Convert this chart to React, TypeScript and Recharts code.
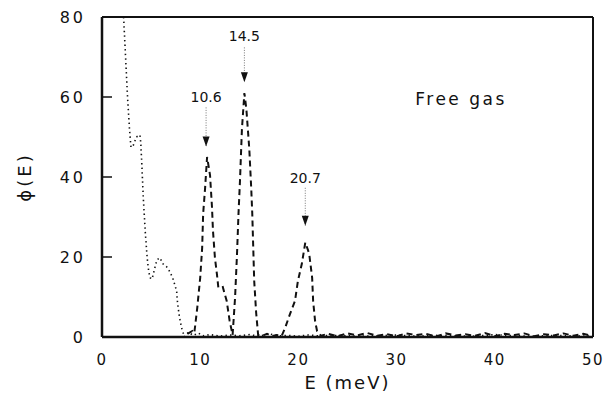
import { LineChart, Line, XAxis, YAxis, ReferenceLine, ReferenceDot } from "recharts";

// dotted curve (low energy tail)
const dottedE = [
  2.2, 2.4, 2.6, 2.8, 2.95, 3.2, 3.5, 3.87, 3.95, 4.04, 4.2, 4.4, 4.6, 4.75, 4.9, 5.1, 5.4, 5.6,
  5.9, 6.2, 6.7, 7.2, 7.6, 7.7, 7.9, 8.1, 8.4, 8.8, 9.3, 9.8, 10.3, 11, 12, 13, 14, 15, 16, 17,
  18, 19, 20, 21, 22, 24, 26, 28, 30, 32, 34, 36, 38, 40, 42, 44, 46, 48, 50,
];
const dottedPhi = [
  80, 70, 60, 52, 47.4, 48, 50, 50.5, 48.4, 44, 35, 26.5, 19.8, 16.5, 14.8, 14.5, 17.5, 19.3,
  19.8, 18.3, 17.3, 14.8, 11.5, 8.3, 4.8, 2.3, 0, 1.2, 0.4, 1.0, 0.3, 0.6, 0.2, 0.5, 0.3, 0.6,
  0.2, 0.8, 0.3, 0.4, 0.2, 0.5, 0.3, 0.4, 0.2, 0.3, 0.5, 0.2, 0.4, 0.3, 0.2, 0.6, 0.3, 0.2, 0.4,
  0.3, 0.2,
];

// dashed curve (free gas peaks)
const dashedE = [
  8.7, 9.2, 9.4, 9.7, 10.0, 10.2, 10.3, 10.5, 10.7, 11.0, 11.2, 11.3, 11.5, 11.7, 11.85, 12.3,
  12.7, 13.0, 13.3, 13.55, 13.75, 13.9, 14.05, 14.25, 14.5, 14.7, 15.0, 15.2, 15.3, 15.5, 15.7,
  15.9, 16.3, 16.8, 17.3, 17.8, 18.3, 18.65, 19.15, 19.65, 19.95, 20.35, 20.7, 20.8, 21.1, 21.4,
  21.5, 21.7, 21.9, 22.3, 23, 24, 25, 26, 27, 28, 29, 30, 31, 32, 33, 34, 35, 36, 37, 38, 39, 40,
  41, 42, 43, 44, 45, 46, 47, 48, 49, 50,
];
const dashedPhi = [
  0.8, 1.5, 1.0, 7.3, 14.8, 22.3, 30.8, 37.3, 45, 40.5, 32.5, 26.6, 19.8, 15.8, 12.3, 12.5, 9,
  4, 0.5, 9.8, 20.8, 30.8, 39, 52, 61, 57, 47, 37, 31, 14, 6, 0.5, 0.3, 0.8, 0.2, 0.5, 0.3, 2.3,
  5.8, 9, 14, 18.3, 23.6, 23, 20.8, 14.8, 9, 4, 1.5, 0.3, 0.8, 0.2, 0.9, 0.4, 1.0, 0.3, 0.7, 0.2,
  0.9, 0.5, 0.8, 0.1, 0.9, 0.4, 0.7, 0.3, 1.0, 0.2, 0.8, 0.5, 0.9, 0.2, 0.7, 0.4, 0.9, 0.3, 0.8,
  0.2,
];

const xTicks = [0, 10, 20, 30, 40, 50];
const yTicks = [0, 20, 40, 60, 80];

// peak annotations
const peakE = [10.6, 14.5, 20.7];
const peakLabels = ["10.6", "14.5", "20.7"];
const labelPhi = [59.9, 75.2, 39.8];
const stemTopPhi = [57.4, 72.4, 37.3];
const arrowTipPhi = [47.6, 63.7, 27.8];

const FONT = "'DejaVu Sans', sans-serif";
const INK = "#111";

const dotted = dottedE.map((e, i) => ({ e, phi: dottedPhi[i] }));
const dashed = dashedE.map((e, i) => ({ e, phi: dashedPhi[i] }));

function YTick(props: any) {
  const { x, y, payload } = props;
  const v = payload.value;
  return (
    <g>
      <text x={x} y={y} textAnchor="end" dominantBaseline="central" fontFamily={FONT}
        fontSize={16} letterSpacing={3} fill={INK}>
        {v}
      </text>
      {v > 0 && v < 80 && (
        <line x1={x + 16} x2={x + 26} y1={y} y2={y} stroke={INK} strokeWidth={1.5} />
      )}
    </g>
  );
}

function XTick(props: any) {
  const { x, y, payload } = props;
  return (
    <text x={x} y={y + 15} textAnchor="middle" dominantBaseline="central" fontFamily={FONT}
      fontSize={15} letterSpacing={1.5} fill={INK}>
      {payload.value}
    </text>
  );
}

export default function App() {
  return (
    <div style={{ position: "absolute", left: 0, top: 0, width: 605, height: 395, background: "#fff" }}>
      <LineChart width={605} height={395} margin={{ top: 17, right: 12, bottom: 0, left: 0 }}>
        <XAxis
          type="number"
          dataKey="e"
          domain={[0, 50]}
          ticks={xTicks}
          allowDataOverflow
          axisLine={false}
          tickLine={false}
          height={58}
          tick={<XTick />}
          label={{
            content: (p: any) => {
              const vb = p.viewBox;
              return (
                <text x={vb.x + vb.width / 2} y={vb.y + 52} textAnchor="middle" fontFamily={FONT}
                  fontSize={18} letterSpacing={2} fill={INK}>
                  E (meV)
                </text>
              );
            },
          }}
        />
        <YAxis
          type="number"
          domain={[0, 80]}
          ticks={yTicks}
          allowDataOverflow
          axisLine={false}
          tickLine={false}
          width={102}
          tickMargin={10}
          interval={0}
          tick={<YTick />}
          label={{
            content: (p: any) => {
              const vb = p.viewBox;
              const cy = vb.y + vb.height / 2;
              return (
                <text x={24} y={cy} textAnchor="middle" dominantBaseline="central"
                  transform={`rotate(-90 24 ${cy})`} fontFamily={FONT} fontSize={18}
                  letterSpacing={3} fill={INK}>
                  ϕ(E)
                </text>
              );
            },
          }}
        />

        <Line data={dotted} dataKey="phi" type="linear" stroke={INK} strokeWidth={1.6}
          strokeDasharray="1.4 3.2" dot={false} isAnimationActive={false} />
        <Line data={dashed} dataKey="phi" type="linear" stroke={INK} strokeWidth={2}
          strokeDasharray="6 4" dot={false} isAnimationActive={false} />

        {peakE.map((e, i) => (
          <ReferenceLine key={`s${i}`} ifOverflow="visible" stroke="#777" strokeWidth={1}
            strokeDasharray="1 1.5"
            segment={[{ x: e, y: stemTopPhi[i] }, { x: e, y: arrowTipPhi[i] }]} />
        ))}
        {peakE.map((e, i) => (
          <ReferenceDot key={`a${i}`} x={e} y={arrowTipPhi[i]} r={1} ifOverflow="visible"
            shape={(p: any) => (
              <polygon
                points={`${p.cx - 3.5},${p.cy - 10} ${p.cx + 3.5},${p.cy - 10} ${p.cx},${p.cy}`}
                fill={INK} />
            )} />
        ))}
        {peakE.map((e, i) => (
          <ReferenceDot key={`l${i}`} x={e} y={labelPhi[i]} r={1} ifOverflow="visible"
            shape={(p: any) => (
              <text x={p.cx} y={p.cy} textAnchor="middle" dominantBaseline="central"
                fontFamily={FONT} fontSize={14} fill={INK}>
                {peakLabels[i]}
              </text>
            )} />
        ))}
        <ReferenceDot x={31.9} y={58.1} r={1} ifOverflow="visible"
          shape={(p: any) => (
            <text x={p.cx} y={p.cy} fontFamily={FONT} fontSize={17} letterSpacing={2.5} fill={INK}>
              Free gas
            </text>
          )} />

        <ReferenceLine x={0} stroke={INK} strokeWidth={2.5} ifOverflow="visible" />
        <ReferenceLine x={50} stroke={INK} strokeWidth={2} ifOverflow="visible" />
        <ReferenceLine y={0} stroke={INK} strokeWidth={2.5} ifOverflow="visible" />
        <ReferenceLine y={80} stroke={INK} strokeWidth={2} ifOverflow="visible" />
      </LineChart>
    </div>
  );
}
